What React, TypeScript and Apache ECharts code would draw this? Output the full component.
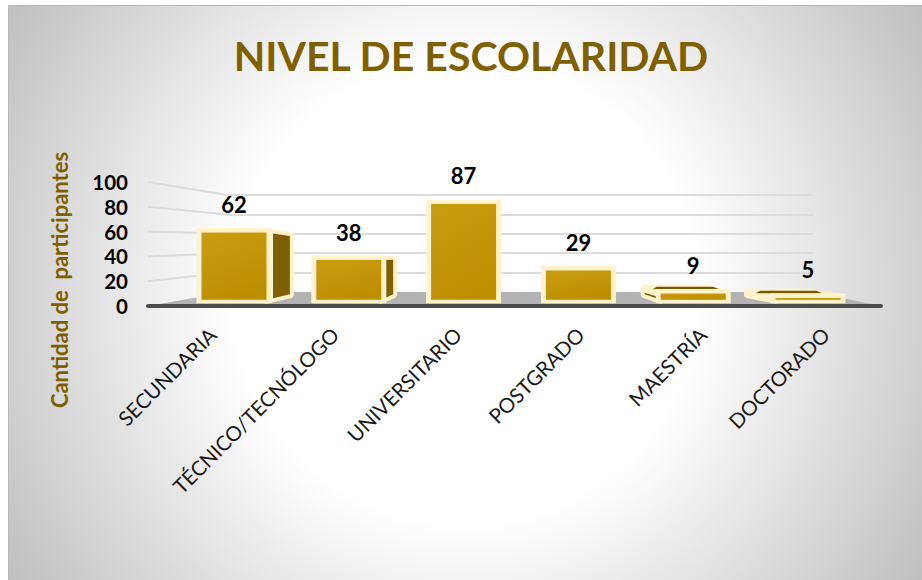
import React, { useEffect, useRef } from "react";
import * as echarts from "echarts";

const titleText = "NIVEL DE ESCOLARIDAD";
const yAxisTitle = "Cantidad de  participantes";
const categories = ["SECUNDARIA", "TÉCNICO/TECNÓLOGO", "UNIVERSITARIO", "POSTGRADO", "MAESTRÍA", "DOCTORADO"];
const values = [62, 38, 87, 29, 9, 5];
const ticks = [0, 20, 40, 60, 80, 100];

const FONT = "Lato";
// perspective of the 3D boxes
const VX = 500, VY = 258, KX = 0.1, KY = 0.13;
const BAR_W = 65, BASE_INSET = 4, BORDER = 5;
const CREAM = "#FFF2CC", DARK = "#7F6000";
const WALL_X = 227, WALL_ZERO = 292, WALL_UNIT = 0.97, FRONT_X = 148;

function renderWallEdge(_p: any, api: any) {
  const v = api.value(0);
  const y0 = api.coord([0, v])[1];
  if (v === 0) return { type: "group", children: [] };
  return {
    type: "line",
    shape: { x1: FRONT_X, y1: y0, x2: WALL_X, y2: WALL_ZERO - v * WALL_UNIT },
    style: { stroke: "#dcdcdc", lineWidth: 2 },
  };
}

function renderBox(_p: any, api: any) {
  const i = api.value(0), v = api.value(1);
  const cx = api.coord([i, 0])[0];
  const zero = api.coord([i, 0])[1];
  const top = api.coord([i, v])[1];
  const bot = zero - BASE_INSET;
  const x0 = cx - BAR_W / 2, x1 = cx + BAR_W / 2;
  const P = (x: number, y: number, t = 1) => [x + (VX - x) * KX * t, y + (VY - y) * KY * t];
  const poly = (points: number[][], fill: any, stroke?: string, lineWidth = 0) => ({
    type: "polygon",
    shape: { points },
    style: { fill, stroke: stroke || undefined, lineWidth, lineJoin: "round" },
  });
  const kids: any[] = [];
  const sideX = x1 < VX ? x1 : x0 > VX ? x0 : null;
  if (sideX !== null && Math.abs(VX - sideX) * KX > 6) {
    const far = [P(sideX, top), P(sideX, bot)];
    kids.push(poly([[sideX, top], far[0], far[1], [sideX, bot]], CREAM, CREAM, 8));
    kids.push(poly([P(sideX, top, 0.28), far[0], far[1], P(sideX, bot, 0.28)], DARK));
  }
  const deep = (top - VY) * KY;
  if (deep > 2) {
    kids.push(poly([[x0, top], P(x0, top), P(x1, top), [x1, top]], CREAM, CREAM, 8));
    if (deep > 4) {
      const a = P(x0, top), b = P(x1, top);
      kids.push(poly([[a[0] + 12, a[1] - 2], [b[0] + 10, b[1] - 2], [b[0] + 16, b[1] + 0.5], [a[0] + 8, a[1] + 0.5]], "#7a5c00"));
    }
  }
  kids.push({
    type: "rect",
    shape: { x: x0 - BORDER, y: top - BORDER + 0.5, width: BAR_W + 2 * BORDER, height: bot - top + 2 * BORDER - 2 },
    style: { fill: CREAM },
  });
  kids.push({
    type: "rect",
    shape: { x: x0, y: top, width: BAR_W, height: bot - top },
    style: {
      fill: new echarts.graphic.LinearGradient(0.2, 0, 0.6, 1, [
        { offset: 0, color: "#C99C10" },
        { offset: 1, color: "#BD8E00" },
      ]),
    },
  });
  kids.push({
    type: "text",
    style: {
      text: String(v),
      x: cx,
      y: top - 28,
      fill: "#000000",
      fontFamily: FONT,
      fontWeight: "bold",
      fontSize: 22,
      textAlign: "center",
      textVerticalAlign: "middle",
    },
  });
  return { type: "group", children: kids };
}

export default function App() {
  const ref = useRef<HTMLDivElement>(null);
  useEffect(() => {
    const chart = echarts.init(ref.current!, null, { renderer: "svg" });
    chart.setOption({
      animation: false,
      title: {
        text: titleText,
        left: 466,
        top: 30,
        textAlign: "center",
        textStyle: { fontFamily: FONT, fontWeight: "bold", fontSize: 41, color: DARK },
      },
      graphic: [
        {
          type: "rect",
          z: -1,
          shape: { x: 8.5, y: 5.5, width: 920, height: 580 },
          style: {
            fill: new echarts.graphic.RadialGradient(465, 292, 540, [
              { offset: 0, color: "#ffffff" },
              { offset: 0.43, color: "#ffffff" },
              { offset: 1, color: "#bfbfbf" },
            ], true),
            stroke: "#b8b8b8",
            lineWidth: 1,
          },
        },
        {
          type: "polygon",
          z: 1,
          shape: { points: [[FRONT_X, 306], [WALL_X, WALL_ZERO], [813, WALL_ZERO], [881, 306]] },
          style: { fill: "#b3b3b3" },
        },
        {
          type: "line",
          z: 1,
          shape: { x1: FRONT_X, y1: 306, x2: 881, y2: 306 },
          style: { stroke: "#4d4d4d", lineWidth: 4, lineCap: "round" },
        },
        {
          type: "text",
          z: 2,
          x: 59,
          y: 280,
          rotation: Math.PI / 2,
          style: {
            text: yAxisTitle,
            fill: DARK,
            fontFamily: FONT,
            fontWeight: "bold",
            fontSize: 22,
            textAlign: "center",
            textVerticalAlign: "middle",
          },
        },
      ],
      grid: [
        { left: 151, width: 736, top: 182, height: 124 },
        { left: 176.6, width: 688.8, top: 189, height: 114.7 },
        { left: WALL_X, width: 813 - WALL_X, top: WALL_ZERO - 100 * WALL_UNIT, height: 100 * WALL_UNIT },
      ],
      xAxis: [
        {
          gridIndex: 0,
          type: "category",
          data: categories,
          axisLine: { show: false },
          axisTick: { show: false },
          axisLabel: { interval: 0, rotate: 45, margin: 25, color: "#1a1a1a", fontFamily: FONT, fontSize: 20.5 },
        },
        { gridIndex: 1, type: "category", data: categories, show: false },
        { gridIndex: 2, type: "category", data: categories, show: false },
      ],
      yAxis: [
        {
          gridIndex: 0,
          type: "value",
          min: 0,
          max: 100,
          interval: 20,
          axisLine: { show: false },
          axisTick: { show: false },
          splitLine: { show: false },
          axisLabel: { margin: 23, color: "#000000", fontFamily: FONT, fontWeight: "bold", fontSize: 20.5 },
        },
        { gridIndex: 1, type: "value", min: 0, max: 100, show: false, splitLine: { show: false } },
        {
          gridIndex: 2,
          type: "value",
          min: 0,
          max: 100,
          interval: 20,
          axisLine: { show: false },
          axisTick: { show: false },
          axisLabel: { show: false },
          splitLine: { show: true, showMinLine: false, lineStyle: { color: "#dcdcdc", width: 2 } },
        },
      ],
      series: [
        {
          type: "custom",
          z: 1,
          xAxisIndex: 0,
          yAxisIndex: 0,
          clip: false,
          silent: true,
          data: ticks.map((t) => [t]),
          encode: { y: 0 },
          renderItem: renderWallEdge,
        },
        {
          type: "custom",
          z: 3,
          xAxisIndex: 1,
          yAxisIndex: 1,
          clip: false,
          data: values.map((v, i) => [i, v]),
          encode: { x: 0, y: 1 },
          renderItem: renderBox,
        },
      ],
    });
    return () => chart.dispose();
  }, []);
  return <div ref={ref} style={{ position: "absolute", left: 0, top: 0, width: 922, height: 580 }} />;
}
